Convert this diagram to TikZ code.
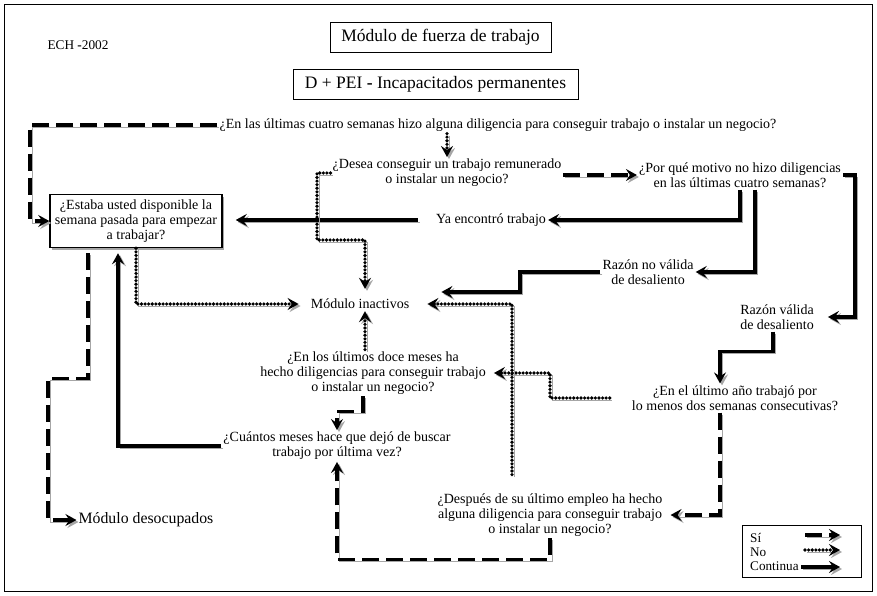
\documentclass[tikz,border=0pt]{standalone}
\usepackage{fontspec}
\setmainfont{Liberation Serif}
\usetikzlibrary{arrows.meta,calc,shadows}
\begin{document}
\begin{tikzpicture}[x=1pt,y=-1pt,
  shadowed/.style={preaction={draw=black!35, transform canvas={shift={(2pt,-2pt)}}}},
  conn/.style={line width=3.4pt, shadowed, -{Stealth[length=11pt,width=12pt,inset=4pt]}},
  si/.style={conn, dash pattern=on 17pt off 7pt},
  no/.style={conn, line width=3.6pt, line cap=round, dash pattern=on 0pt off 3.6pt},
  cont/.style={conn},
  txt/.style={font=\fontsize{14}{14.8}\selectfont, align=center, inner sep=2pt},
  legtxt/.style={font=\fontsize{13.2}{14}\selectfont, inner sep=2pt, anchor=west},
  title/.style={draw, line width=0.8pt, font=\fontsize{17.5}{19}\selectfont, inner sep=0pt, minimum height=30pt}
]
\useasboundingbox (0,0) rectangle (877,596);
\draw[line width=1pt] (4.5,4.5) rectangle (872,591);

% header
\node[txt, font=\fontsize{13.3}{15}\selectfont] (ech) at (78,45) {ECH \textbf{-}2002};
\node[title, minimum width=221pt] (t1) at (440.5,37) {Módulo de fuerza de trabajo};
\node[title, minimum width=285pt] (t2) at (435.5,84) {D + PEI \textbf{-} Incapacitados permanentes};

% questions
\node[txt] (q1) at (498,125) {¿En las últimas cuatro semanas hizo alguna diligencia para conseguir trabajo o instalar un negocio?};
\node[txt] (q2) at (447,173) {¿Desea conseguir un trabajo remunerado\\o instalar un negocio?};
\node[txt] (q3) at (740,175) {¿Por qué motivo no hizo diligencias\\en las últimas cuatro semanas?};
\node[txt, draw, line width=1.5pt, fill=white, minimum width=172pt, minimum height=53pt,
      drop shadow={shadow xshift=2pt, shadow yshift=-2pt, fill=black!35, opacity=1}] (box) at (136,221)
      {¿Estaba usted disponible la\\semana pasada para empezar\\a trabajar?};
\node[txt] (ya) at (491,220) {Ya encontró trabajo};
\node[txt] (rnv) at (648,272) {Razón no válida\\de desaliento};
\node[txt] (rv) at (777,317) {Razón válida\\de desaliento};
\node[txt] (mi) at (360,304) {Módulo inactivos};
\node[txt] (q4) at (373,373) {¿En los últimos doce meses ha\\hecho diligencias para conseguir trabajo\\o instalar un negocio?};
\node[txt] (q5) at (337,446) {¿Cuántos meses hace que dejó de buscar\\trabajo por última vez?};
\node[txt] (q7) at (735,398) {¿En el último año trabajó por\\lo menos dos semanas consecutivas?};
\node[txt] (q6) at (550,515) {¿Después de su último empleo ha hecho\\alguna diligencia para conseguir trabajo\\o instalar un negocio?};
\node[txt, font=\fontsize{15.8}{18}\selectfont] (md) at (146,520) {Módulo desocupados};

% connectors
\draw[si] (q1.west) -| (30,221) -- (box.west);
\draw[no] ([xshift=-51pt]q1.south) -- (q2.north);
\draw[si] (q2.east |- q3.west) -- (q3.west);
\draw[cont] (q3.east) -| (855,317) -- ([xshift=12pt]rv.east);
\draw[cont] (q3.south) |- (ya.east);
\draw[cont] ([xshift=15pt]q3.south) |- (rnv.east);
\draw[cont] (rnv.west) -| (520,292) -- ($(mi.east)+(30,-12)$);
\draw[cont] ([xshift=-16pt]ya.west) -- ([xshift=13pt]box.east |- ya.west);
\draw[no] (q2.west) -| (317,240) -| ([xshift=5pt,yshift=8pt]mi.north);
\draw[no] (box.south) |- ([xshift=-10pt]mi.west);
\draw[si] ([xshift=-48pt,yshift=-5pt]box.south) -- ++(0,125) -| (48,520) -- (md.west);
\draw[cont] (q5.west) -| ([xshift=-18pt,yshift=-5pt]box.south);
\draw[no] ([xshift=-8pt]q4.north) -- ([xshift=5pt]mi.south);
\draw[si] ([xshift=-10pt]q4.south) -- ++(0,15) -| (q5.north);
\draw[si] (q6.south) -- ++(0,21) -| (q5.south);
\draw[si] ([xshift=-15pt]q7.south) |- ([xshift=6pt]q6.east);
\draw[cont] ([xshift=-4pt]rv.south) -- ++(0,20) -| ([xshift=-15pt]q7.north);
\draw[no] ([xshift=-20pt]q7.west) -| (550,373) -- ([xshift=6pt]q4.east);
\draw[no] ([xshift=-38pt,yshift=17pt]q6.north) |- ([xshift=16pt]mi.east);

% legend
\node[draw, line width=0.8pt, minimum width=119pt, minimum height=52pt] (leg) at (801.5,551) {};
\node[legtxt] (lsi) at (748,538) {Sí};
\node[legtxt] (lno) at (748,552) {No};
\node[legtxt] (lco) at (748,566) {Continua};
\coordinate (sa) at (805,535); \coordinate (sb) at (840,535);
\coordinate (na) at (805,550); \coordinate (nb) at (840,550);
\coordinate (ca) at (801,567); \coordinate (cb) at (840,567);
\draw[si] (sa) -- (sb);
\draw[no] (na) -- (nb);
\draw[cont] (ca) -- (cb);
\end{tikzpicture}
\end{document}
